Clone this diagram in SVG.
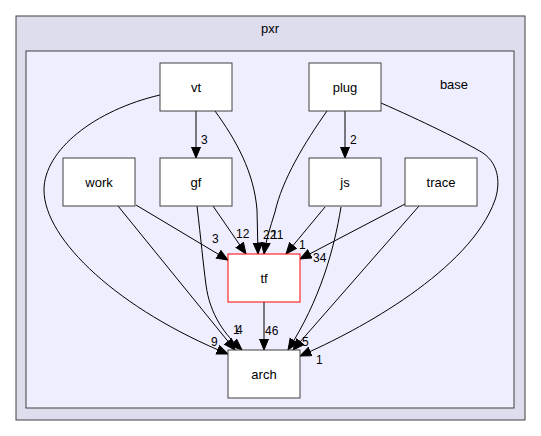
<svg xmlns="http://www.w3.org/2000/svg" width="541" height="436" viewBox="0 0 541 436">
<style>
text{font-family:"Liberation Sans",Arial,sans-serif;fill:#000}
.n rect{fill:#fff;stroke:#404040;stroke-width:1}
.n text{font-size:13px;text-anchor:middle}
.e path{fill:none;stroke:#000;stroke-width:1;marker-end:url(#ah)}
.l{font-size:12px;fill:#000}
</style>
<defs>
<marker id="ah" markerUnits="userSpaceOnUse" markerWidth="13" markerHeight="11" refX="11.5" refY="5" orient="auto">
<path d="M0.5,0.5 L11.5,5 L0.5,9.5 z" fill="#000" stroke="#000" stroke-width="1"/>
</marker>
</defs>
<g id="cluster-pxr">
<rect x="16" y="16" width="509" height="404" fill="#ddddee" stroke="#404040"/>
<text x="270" y="33" font-size="13" text-anchor="middle">pxr</text>
</g>
<g id="cluster-base">
<rect x="26" y="51" width="488" height="357" fill="#eeeeff" stroke="#404040"/>
<text x="454" y="89" font-size="13" text-anchor="middle">base</text>
</g>
<g class="e" id="edges">
<path d="M196,111 L196,158"/>
<path d="M345,111 L345,158"/>
<path d="M215,111 C236,140 254,172 257,210 L258,254"/>
<path d="M327,111 C305,142 282,180 275,212 C270,228 266,240 264,254"/>
<path d="M213,206 L246,254"/>
<path d="M136,205 L228,260"/>
<path d="M325,207 L286,254"/>
<path d="M405,204 L300,259"/>
<path d="M264,302 L264,350"/>
<path d="M160,95 C95,110 44,150 44,190 C44,240 120,310 228,354"/>
<path d="M197,206 C201,240 203,262 206,285 C210,315 225,335 242,350"/>
<path d="M118,206 L235,350"/>
<path d="M341,207 C334,250 320,300 288,350"/>
<path d="M419,206 L293,350"/>
<path d="M381,103 C420,120 465,142 483,153 C500,165 500,185 495,200 C470,270 360,330 300,356"/>
</g>
<g id="edge-labels">
<text class="l" x="201" y="144">3</text>
<text class="l" x="350" y="144">2</text>
<text class="l" x="263" y="239">22</text>
<text class="l" x="271" y="239">11</text>
<text class="l" x="236" y="238">12</text>
<text class="l" x="212" y="243">3</text>
<text class="l" x="299" y="249">1</text>
<text class="l" x="313" y="262">34</text>
<text class="l" x="265" y="335">46</text>
<text class="l" x="211" y="346">9</text>
<text class="l" x="233" y="334">1</text>
<text class="l" x="236" y="334">4</text>
<text class="l" x="302" y="346">5</text>
<text class="l" x="316" y="364">1</text>
</g>
<g class="n" id="node-vt"><rect x="160" y="63" width="72" height="48"/><text x="196" y="92">vt</text></g>
<g class="n" id="node-plug"><rect x="309" y="63" width="72" height="48"/><text x="345" y="92">plug</text></g>
<g class="n" id="node-work"><rect x="63" y="158" width="72" height="48"/><text x="99" y="187">work</text></g>
<g class="n" id="node-gf"><rect x="160" y="158" width="72" height="48"/><text x="196" y="187">gf</text></g>
<g class="n" id="node-js"><rect x="309" y="158" width="72" height="48"/><text x="345" y="187">js</text></g>
<g class="n" id="node-trace"><rect x="405" y="158" width="72" height="48"/><text x="441" y="187">trace</text></g>
<g class="n" id="node-tf"><rect x="228" y="254" width="72" height="48" style="stroke:#ff0000"/><text x="264" y="283">tf</text></g>
<g class="n" id="node-arch"><rect x="228" y="350" width="72" height="48"/><text x="264" y="379">arch</text></g>
</svg>
